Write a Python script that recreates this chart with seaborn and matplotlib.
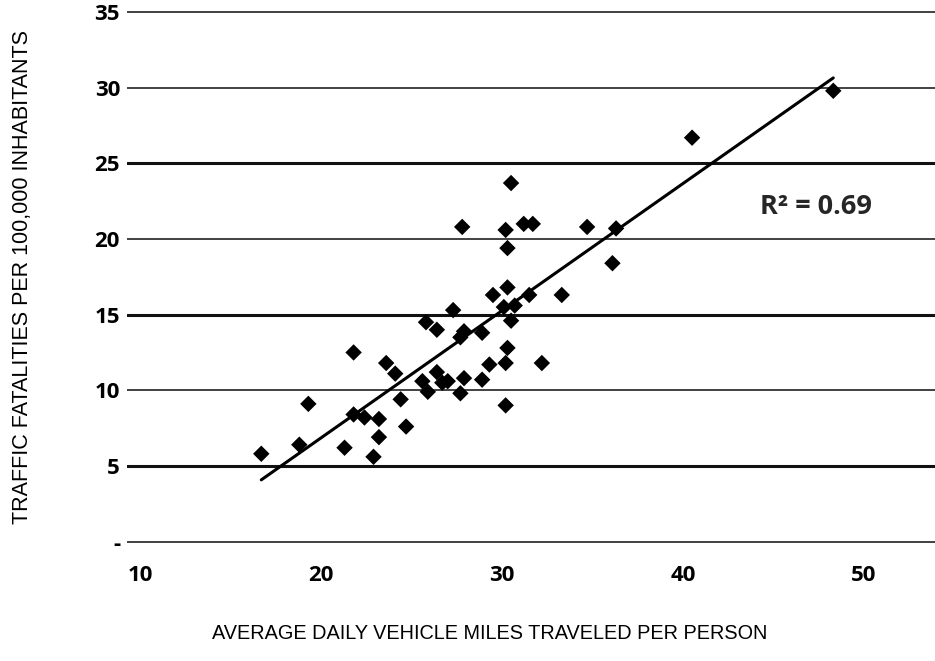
import numpy as np
import pandas as pd
import matplotlib
matplotlib.use("Agg")
import matplotlib.pyplot as plt
import seaborn as sns

# average daily vehicle miles per person (x) and traffic deaths per 100k (y)
miles = [16.7, 18.8, 19.3, 21.8, 21.3, 21.8, 22.4, 22.9, 23.2, 23.2,
         23.6, 24.1, 24.4, 24.7, 25.6, 25.9, 26.4, 26.4, 27.3, 25.8,
         27.9, 27.7, 28.9, 30.1, 30.7, 30.5, 30.3, 29.3, 30.2, 32.2,
         28.9, 27.9, 27.7, 27.0, 26.7, 30.2, 30.5, 27.8, 30.2, 31.2,
         31.7, 34.7, 30.3, 30.3, 29.5, 31.5, 33.3, 36.3, 36.1, 40.5,
         48.3]
fatalities = [5.8, 6.4, 9.1, 12.5, 6.2, 8.4, 8.2, 5.6, 6.9, 8.1,
              11.8, 11.1, 9.4, 7.6, 10.6, 9.9, 11.2, 14.0, 15.3, 14.5,
              13.9, 13.5, 13.8, 15.5, 15.6, 14.6, 12.8, 11.7, 11.8, 11.8,
              10.7, 10.8, 9.8, 10.6, 10.5, 9.0, 23.7, 20.8, 20.6, 21.0,
              21.0, 20.8, 19.4, 16.8, 16.3, 16.3, 16.3, 20.7, 18.4, 26.7,
              29.8]

x_ticks = [10, 20, 30, 40, 50]
y_ticks = [0, 5, 10, 15, 20, 25, 30, 35]
y_tick_labels = ["-", "5", "10", "15", "20", "25", "30", "35"]
r2_label = "R\u00b2 = 0.69"

df = pd.DataFrame({"miles": miles, "fatalities": fatalities})

sns.set_theme(style="white")
plt.rcParams["font.family"] = ["Open Sans", "DejaVu Sans"]

fig = plt.figure(figsize=(9.35, 6.61), dpi=100)
ax = fig.add_axes([0.1358, 0.1762, 0.8642, 0.810])

sns.regplot(data=df, x="miles", y="fatalities", ax=ax, ci=None,
            marker="D", color="black",
            scatter_kws={"s": 70, "edgecolor": "none", "alpha": 1, "zorder": 3},
            line_kws={"lw": 2.2, "color": "black", "zorder": 4})

ax.set_xlim(9.28, 53.92)
ax.set_ylim(-0.2, 35.2)
ax.set_xticks(x_ticks)
ax.set_yticks(y_ticks)
ax.set_yticklabels(y_tick_labels)

# horizontal rules, some drawn heavier like the original print
ax.grid(axis="y", color="#333333", lw=1.3)
ax.grid(axis="x", visible=False)
for val, line in zip(y_ticks, ax.yaxis.get_gridlines()):
    if val in (5, 15, 25):
        line.set_linewidth(2.2)
        line.set_color("#111111")
ax.set_axisbelow(True)

sns.despine(ax=ax, left=True, bottom=True, top=True, right=True)
ax.tick_params(axis="both", length=0, labelsize=16, colors="black")
ax.tick_params(axis="y", pad=5)
ax.tick_params(axis="x", pad=15)
for lab in ax.get_xticklabels() + ax.get_yticklabels():
    lab.set_fontweight("bold")

label_font = ["Liberation Sans", "DejaVu Sans"]
ax.set_xlabel("AVERAGE DAILY VEHICLE MILES TRAVELED PER PERSON",
              family=label_font, fontsize=14.3, color="black",
              labelpad=27, x=0.449)
ax.set_ylabel("TRAFFIC FATALITIES PER 100,000 INHABITANTS",
              family=label_font, fontsize=15.5, color="black", labelpad=44)

ax.text(44.25, 22.1, r2_label, fontsize=19.5, fontweight="bold",
        ha="left", va="center")

fig.savefig("out.png", dpi=100)
